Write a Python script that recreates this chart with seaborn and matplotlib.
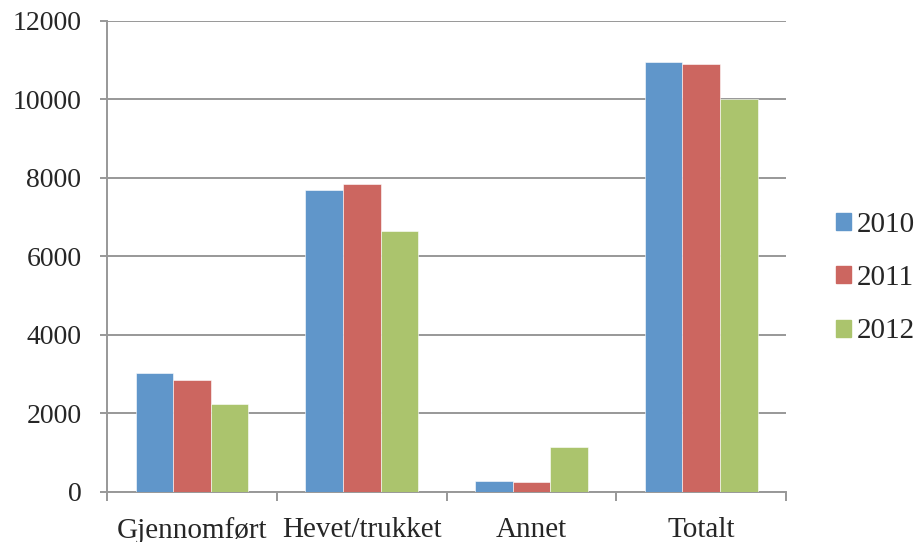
import numpy as np
import pandas as pd
import matplotlib
matplotlib.use("Agg")
import matplotlib.pyplot as plt
import seaborn as sns

# values
categories = ['Gjennomført', 'Hevet/trukket', 'Annet', 'Totalt']
years = ['2010', '2011', '2012']
v2010 = [3020, 7690, 280, 10950]
v2011 = [2840, 7840, 240, 10890]
v2012 = [2240, 6630, 1130, 9990]
colors = ['#6096CA', '#CC6660', '#ABC46D']

df = pd.DataFrame({
    'kategori': categories * 3,
    'aar': [y for y in years for _ in categories],
    'antall': v2010 + v2011 + v2012,
})

sns.set_style('white')
plt.rcParams['font.family'] = ['Liberation Serif', 'DejaVu Serif']
grey = '#989898'

fig = plt.figure(figsize=(9.16, 5.42), dpi=100)
ax = fig.add_axes([0.117, 0.093, 0.741, 0.869])

sns.barplot(data=df, x='kategori', y='antall', hue='aar', order=categories,
            hue_order=years, palette=colors, width=0.665, saturation=1,
            edgecolor='white', linewidth=0.4, ax=ax, zorder=3)

ax.set_ylim(0, 12000)
ax.set_xlim(-0.5, 3.5)
ax.set_yticks(np.arange(0, 12001, 2000))
ax.yaxis.grid(True, color=grey, linewidth=1.4, zorder=0)
ax.set_axisbelow(True)
ax.set_xlabel('')
ax.set_ylabel('')

for s in ['top', 'right']:
    ax.spines[s].set_visible(False)
for s in ['left', 'bottom']:
    ax.spines[s].set_color(grey)
    ax.spines[s].set_linewidth(1.4)

# category boundary ticks on x, labels at centres
ax.set_xticks(np.arange(-0.5, 4, 1.0))
ax.set_xticklabels([])
ax.set_xticks(np.arange(0, 4), minor=True)
ax.set_xticklabels(categories, minor=True)
ax.tick_params(axis='x', which='major', direction='out', length=6.5, width=1.4,
               color=grey, bottom=True)
ax.tick_params(axis='x', which='minor', length=0, pad=18, labelsize=21)
ax.tick_params(axis='y', direction='out', length=5, width=1.4, color=grey,
               left=True, labelsize=20, pad=13.5)

ax.legend_.remove()
handles = [plt.Rectangle((0, 0), 1, 1, color=c) for c in colors]
fig.legend(handles, years, loc='center left', bbox_to_anchor=(0.9127, 0.487),
           frameon=False, fontsize=21, borderpad=0, borderaxespad=0,
           handlelength=0.52, handleheight=0.52, handletextpad=0.2,
           labelspacing=0.94)

fig.savefig('out.png', dpi=100)
